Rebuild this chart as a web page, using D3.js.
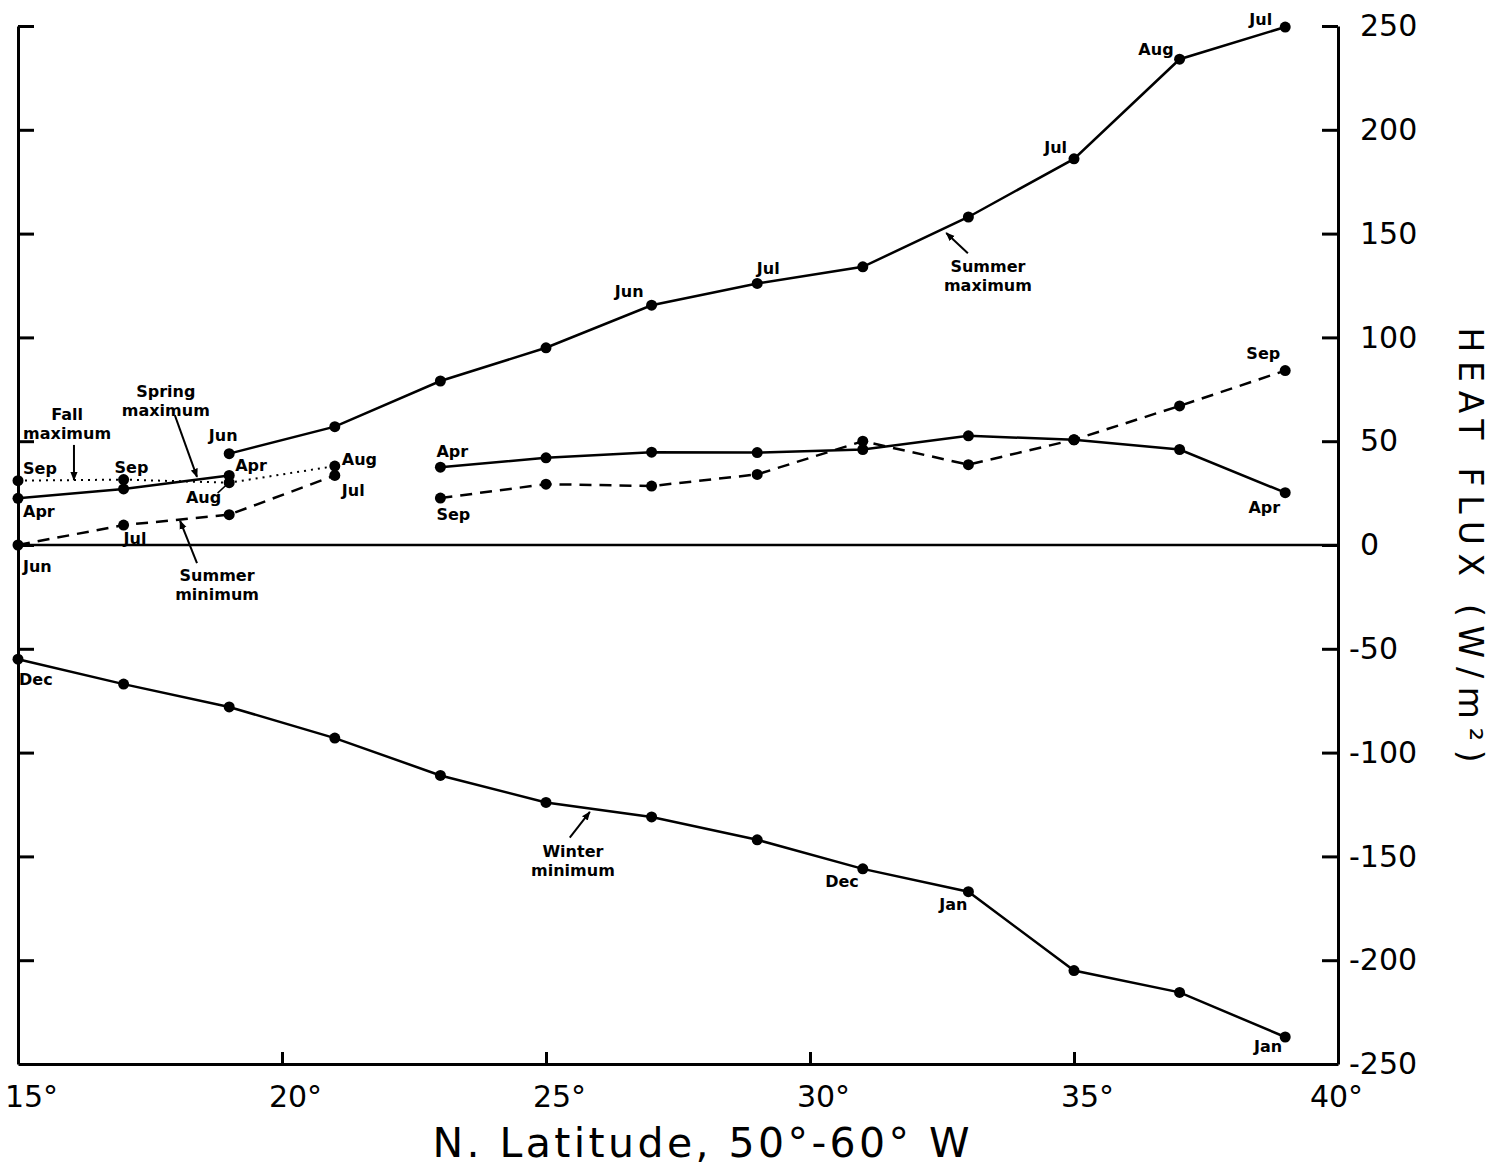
<!DOCTYPE html>
<html>
<head>
<meta charset="utf-8">
<script src="https://cdn.jsdelivr.net/npm/d3@7"></script>
<style>
  body { margin: 0; background: #fff; }
  svg { display: block; }
  .axis path, .axis line { stroke: #000; stroke-width: 3; }
  .tick text { font-family: "DejaVu Sans", sans-serif; fill: #000; }
  .lbl { font-family: "DejaVu Sans", sans-serif; font-weight: bold; font-size: 16px; fill: #000; }
  .title { font-family: "DejaVu Sans", sans-serif; fill: #000; }
</style>
</head>
<body>
<script>
const W = 1499, H = 1169;

// latitude (deg N) of each station
const latAll = [15, 17, 19, 21, 23, 25, 27, 29, 31, 33, 35, 37, 39];
const lat19to39 = [19, 21, 23, 25, 27, 29, 31, 33, 35, 37, 39];
const lat15to19 = [15, 17, 19];
const lat15to21 = [15, 17, 19, 21];
const lat23to39 = [23, 25, 27, 29, 31, 33, 35, 37, 39];

// heat flux values (W/m2)
const summerMax = [44, 57, 79, 95, 115.5, 126, 134, 158, 186, 234, 249.5];
const winterMin = [-55, -67, -78, -93, -111, -124, -131, -142, -156, -167, -205, -215.5, -237];
const springMaxA = [22.5, 27, 33.5];
const springMaxB = [37.5, 42, 44.7, 44.5, 46, 52.6, 50.7, 46, 25.2];
const fallMax = [31, 31.5, 30, 38];
const summerMinA = [0, 9.6, 14.6, 33.5];
const summerMinB = [22.6, 29.3, 28.4, 34, 50, 38.7, 50.7, 67, 84];

const xTicks = [15, 20, 25, 30, 35, 40];
const yTicks = [250, 200, 150, 100, 50, 0, -50, -100, -150, -200, -250];

const svg = d3.select('body').append('svg')
    .attr('width', W)
    .attr('height', H);

const x = d3.scaleLinear().domain([15, 40]).range([18, 1338]);
const y = d3.scaleLinear().domain([-250, 250]).range([1064, 26]);

// arrow head marker
svg.append('defs').append('marker')
    .attr('id', 'arrow')
    .attr('viewBox', '0 0 10 10')
    .attr('refX', 9).attr('refY', 5)
    .attr('markerWidth', 9).attr('markerHeight', 9)
    .attr('markerUnits', 'userSpaceOnUse')
    .attr('orient', 'auto')
    .append('path').attr('d', 'M0,1 L10,5 L0,9 Z').attr('fill', '#000');

//left axis, ticks only, pointing in
svg.append('g')
    .attr('class', 'axis')
    .attr('transform', `translate(${x(15)},0)`)
    .call(d3.axisRight(y).tickValues(yTicks.slice(0, -1)).tickSizeInner(16).tickSizeOuter(0).tickFormat(''));

//right axis with labels outside
const yAxis = svg.append('g')
    .attr('class', 'axis')
    .attr('transform', `translate(${x(40)},0)`)
    .call(d3.axisRight(y).tickValues(yTicks).tickSizeInner(-16).tickSizeOuter(0).tickPadding(22)
        .tickFormat(d => d < 0 ? '-' + Math.abs(d) : d));
yAxis.selectAll('text')
    .style('font-size', '30px')
    .attr('x', d => d < 0 ? 11 : 22);

//bottom axis
const xAxis = svg.append('g')
    .attr('class', 'axis')
    .attr('transform', `translate(0,${y(-250)})`)
    .call(d3.axisBottom(x).tickValues(xTicks).tickSizeInner(-12).tickSizeOuter(0).tickPadding(22)
        .tickFormat(d => d + '°'));
xAxis.selectAll('text')
    .style('font-size', '30px')
    .attr('dx', d => d === 40 ? -2 : 13);

// zero line
svg.append('line')
    .attr('x1', x(15)).attr('x2', x(40))
    .attr('y1', y(0)).attr('y2', y(0))
    .attr('stroke', '#000').attr('stroke-width', 2.5);

const line = d3.line().x(d => x(d[0])).y(d => y(d[1]));

const series = [
    { lats: lat19to39, vals: summerMax, dash: null },
    { lats: latAll, vals: winterMin, dash: null },
    { lats: lat15to19, vals: springMaxA, dash: null },
    { lats: lat23to39, vals: springMaxB, dash: null },
    { lats: lat15to21, vals: fallMax, dash: '2,5' },
    { lats: lat15to21, vals: summerMinA, dash: '12,8' },
    { lats: lat23to39, vals: summerMinB, dash: '12,8' }
];

series.forEach(s => {
    const pts = s.lats.map((l, i) => [l, s.vals[i]]);
    svg.append('path')
        .datum(pts)
        .attr('d', line)
        .attr('fill', 'none')
        .attr('stroke', '#000')
        .attr('stroke-width', s.dash === '2,5' ? 2 : 2.5)
        .attr('stroke-dasharray', s.dash);
    svg.append('g').selectAll('circle')
        .data(pts)
        .enter().append('circle')
        .attr('cx', d => x(d[0]))
        .attr('cy', d => y(d[1]))
        .attr('r', 5.5)
        .attr('fill', '#000');
});

// month labels: [lat, value, text, anchor, dx, dy]
const monthLabels = [
    [39, 249.5, 'Jul', 'end', -13, -2],
    [37, 234, 'Aug', 'end', -6, -4],
    [35, 186, 'Jul', 'end', -7, -6],
    [29, 126, 'Jul', 'middle', 11, -9],
    [27, 115.5, 'Jun', 'end', -8, -8],
    [19, 44, 'Jun', 'middle', -6, -13],
    [21, 38, 'Aug', 'start', 7, -1],
    [21, 33.5, 'Jul', 'start', 7, 21],
    [19, 33.5, 'Apr', 'start', 6, -4],
    [19, 30, 'Aug', 'end', -8, 20],
    [15, 31, 'Sep', 'start', 5, -7],
    [17, 31.5, 'Sep', 'start', -9, -7],
    [15, 22.5, 'Apr', 'start', 5, 19],
    [17, 9.6, 'Jul', 'start', 0, 19],
    [15, 0, 'Jun', 'start', 5, 27],
    [23, 37.5, 'Apr', 'start', -4, -10],
    [23, 22.6, 'Sep', 'start', -4, 22],
    [39, 84, 'Sep', 'end', -5, -12],
    [39, 25.2, 'Apr', 'end', -5, 20],
    [15, -55, 'Dec', 'start', 1, 26],
    [31, -156, 'Dec', 'end', -4, 18],
    [33, -167, 'Jan', 'end', -1, 18],
    [39, -237, 'Jan', 'end', -3, 15]
];

svg.append('g').selectAll('text')
    .data(monthLabels)
    .enter().append('text')
    .attr('class', 'lbl')
    .attr('x', d => x(d[0]) + d[4])
    .attr('y', d => y(d[1]) + d[5])
    .attr('text-anchor', d => d[3])
    .text(d => d[2]);

// curve names with arrows: text position and arrow tail/head in data units
const notes = [
    { lines: ['Summer', 'maximum'], at: [33.37, 131.5], from: [32.99, 140.5], to: [32.58, 150.3] },
    { lines: ['Winter', 'minimum'], at: [25.51, -150.3], from: [25.45, -141], to: [25.83, -128.6] },
    { lines: ['Summer', 'minimum'], at: [18.77, -17.3], from: [18.39, -8.7], to: [18.07, 11.6] },
    { lines: ['Spring', 'maximum'], at: [17.8, 71.3], from: [17.97, 62.6], to: [18.39, 32.8] },
    { lines: ['Fall', 'maximum'], at: [15.93, 60.2], from: [16.06, 48.2], to: [16.06, 31.3] }
];

notes.forEach(n => {
    const t = svg.append('text')
        .attr('class', 'lbl')
        .attr('text-anchor', 'middle')
        .attr('x', x(n.at[0]))
        .attr('y', y(n.at[1]));
    n.lines.forEach((s, i) => {
        t.append('tspan')
            .attr('x', x(n.at[0]))
            .attr('dy', i === 0 ? 0 : 19)
            .text(s);
    });
    svg.append('line')
        .attr('x1', x(n.from[0])).attr('y1', y(n.from[1]))
        .attr('x2', x(n.to[0])).attr('y2', y(n.to[1]))
        .attr('stroke', '#000').attr('stroke-width', 2)
        .attr('marker-end', 'url(#arrow)');
});

// short leader from the Aug label to its point at 19°
svg.append('line')
    .attr('x1', x(18.78)).attr('y1', y(25))
    .attr('x2', x(18.95)).attr('y2', y(29))
    .attr('stroke', '#000').attr('stroke-width', 1.5);

//axis titles
svg.append('text')
    .attr('class', 'title')
    .attr('x', 701)
    .attr('y', 1157)
    .attr('text-anchor', 'middle')
    .attr('textLength', 537)
    .attr('lengthAdjust', 'spacing')
    .style('font-size', '41px')
    .text('N. Latitude, 50°-60° W');

svg.append('text')
    .attr('class', 'title')
    .attr('transform', `translate(1459,${y(0)}) rotate(90)`)
    .attr('text-anchor', 'middle')
    .attr('textLength', 435)
    .attr('lengthAdjust', 'spacing')
    .style('font-size', '33px')
    .text('HEAT FLUX (W/m²)');
</script>
</body>
</html>
